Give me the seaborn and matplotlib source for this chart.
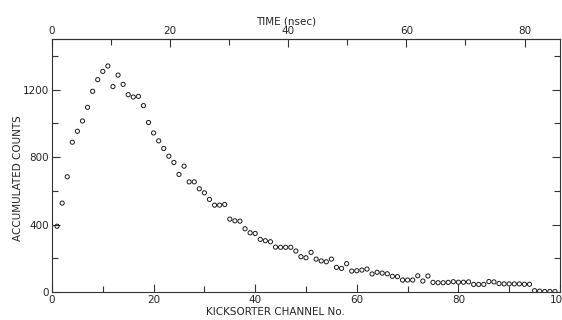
import numpy as np
import pandas as pd
import matplotlib
matplotlib.use("Agg")
import matplotlib.pyplot as plt
import seaborn as sns
from matplotlib.ticker import MultipleLocator

# Canais do kicksorter e contagens acumuladas
channels = list(range(1, 100))
counts = [
    390, 527, 683, 888, 953, 1014, 1095, 1190, 1259, 1308,
    1340, 1218, 1286, 1231, 1170, 1156, 1160, 1105, 1005, 943,
    896, 851, 805, 768, 697, 746, 653, 653, 612, 588,
    549, 515, 515, 519, 432, 422, 420, 375, 351, 347,
    312, 304, 298, 266, 265, 265, 265, 243, 209, 203,
    235, 195, 184, 179, 195, 146, 140, 168, 124, 126,
    130, 136, 107, 117, 112, 108, 93, 91, 71, 71,
    71, 96, 65, 95, 57, 55, 55, 57, 61, 58,
    58, 60, 45, 45, 45, 62, 60, 50, 48, 48,
    48, 48, 46, 46, 8, 5, 3, 3, 3,
]

ns_per_channel = 0.86

df = pd.DataFrame({"channel": channels, "counts": counts})

sns.set_style("ticks")
plt.rcParams["font.family"] = ["DejaVu Sans"]

fig = plt.figure(figsize=(5.62, 3.2), dpi=100)
ax = fig.add_axes([52 / 562, 1 - 292 / 320, 508 / 562, 253 / 320])

sns.scatterplot(data=df, x="channel", y="counts", ax=ax, marker="o", s=9,
                facecolor="none", edgecolor="#1a1a1a", linewidth=0.7)

ax.set_xlim(0, 100)
ax.set_ylim(0, 1500)

ax.xaxis.set_major_locator(MultipleLocator(20))
ax.xaxis.set_minor_locator(MultipleLocator(10))
ax.yaxis.set_major_locator(MultipleLocator(400))
ax.yaxis.set_minor_locator(MultipleLocator(200))

for s in ax.spines.values():
    s.set_visible(True)
    s.set_color("#333333")
    s.set_linewidth(0.8)

ax.tick_params(which="both", direction="in", color="#333333", labelsize=7.5,
               right=True, labelright=False)
ax.tick_params(which="major", length=6, width=0.8, pad=2)
ax.tick_params(which="minor", length=4, width=0.8)

ax.set_xlabel("KICKSORTER CHANNEL No.", fontsize=7.5)
ax.set_ylabel("ACCUMULATED COUNTS", fontsize=7.5)
ax.xaxis.set_label_coords(0.439, -0.06)
ax.yaxis.set_label_coords(-0.058, 0.45)

# Eixo superior em tempo (ns)
top = ax.secondary_xaxis("top", functions=(lambda c: c * ns_per_channel,
                                           lambda t: t / ns_per_channel))
top.xaxis.set_major_locator(MultipleLocator(20))
top.xaxis.set_minor_locator(MultipleLocator(10))
top.tick_params(which="both", direction="in", color="#333333", labelsize=7.5, pad=2)
top.tick_params(which="major", length=6, width=0.8)
top.tick_params(which="minor", length=4, width=0.8)
top.spines["top"].set_color("#333333")
top.spines["top"].set_linewidth(0.8)
top.set_xlabel("TIME (nsec)", fontsize=7.5)
top.xaxis.set_label_coords(0.46, 1.05, transform=ax.transAxes)
top.xaxis.label.set_va("bottom")

fig.savefig("out.png", dpi=100)
